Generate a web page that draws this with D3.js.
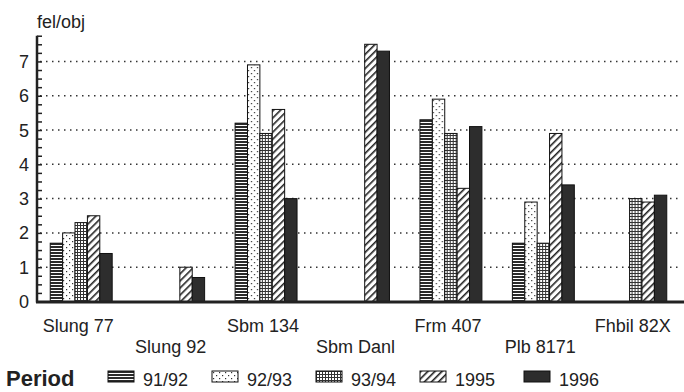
<!DOCTYPE html>
<html>
<head>
<meta charset="utf-8">
<script src="https://cdn.jsdelivr.net/npm/d3@7"></script>
<style>
    html, body { margin: 0; padding: 0; background: #fff; }
    svg { display: block; font-family: "Liberation Sans", Arial, sans-serif; }
</style>
</head>
<body>
<svg id="chart"></svg>
<script>
// =============================================================================
// DATA
// =============================================================================

const categories = ['Slung 77', 'Slung 92', 'Sbm 134', 'Sbm Danl', 'Frm 407', 'Plb 8171', 'Fhbil 82X'];
const periods    = ['91/92', '92/93', '93/94', '1995', '1996'];

// fel/obj per period (null = no bar)
const v9192 = [1.7, null, 5.2, null, 5.3, 1.7, 0];
const v9293 = [2.0, null, 6.9, null, 5.9, 2.9, 0];
const v9394 = [2.3, null, 4.9, null, 4.9, 1.7, 3.0];
const v1995 = [2.5, 1.0, 5.6, 7.5, 3.3, 4.9, 2.9];
const v1996 = [1.4, 0.7, 3.0, 7.3, 5.1, 3.4, 3.1];

const yTicks = [0, 1, 2, 3, 4, 5, 6, 7];
const seriesValues = [v9192, v9293, v9394, v1995, v1996];

// =============================================================================
// CHART
// =============================================================================

function drawChart() {
    const W = 684, H = 392;
    const svg = d3.select('#chart').attr('width', W).attr('height', H);
    const ink = '#222';

    // --- fill patterns (one per period) ---
    const defs = svg.append('defs');

    const pHoriz = defs.append('pattern').attr('id', 'p0')
        .attr('patternUnits', 'userSpaceOnUse').attr('width', 4).attr('height', 3);
    pHoriz.append('rect').attr('width', 4).attr('height', 3).attr('fill', '#fff');
    pHoriz.append('rect').attr('width', 4).attr('height', 2).attr('fill', '#2a2a2a');

    const pDots = defs.append('pattern').attr('id', 'p1')
        .attr('patternUnits', 'userSpaceOnUse').attr('width', 6).attr('height', 6);
    pDots.append('rect').attr('width', 6).attr('height', 6).attr('fill', '#fff');
    pDots.append('rect').attr('x', 1).attr('y', 1).attr('width', 1.2).attr('height', 1.2).attr('fill', '#333');
    pDots.append('rect').attr('x', 4).attr('y', 4).attr('width', 1.2).attr('height', 1.2).attr('fill', '#333');

    const pGrid = defs.append('pattern').attr('id', 'p2')
        .attr('patternUnits', 'userSpaceOnUse').attr('width', 3).attr('height', 3);
    pGrid.append('rect').attr('width', 3).attr('height', 3).attr('fill', '#fff');
    pGrid.append('rect').attr('width', 3).attr('height', 1).attr('fill', '#333');
    pGrid.append('rect').attr('width', 1).attr('height', 3).attr('fill', '#333');

    const pDiag = defs.append('pattern').attr('id', 'p3')
        .attr('patternUnits', 'userSpaceOnUse').attr('width', 5).attr('height', 5)
        .attr('patternTransform', 'rotate(45)');
    pDiag.append('rect').attr('width', 5).attr('height', 5).attr('fill', '#fff');
    pDiag.append('rect').attr('width', 1.6).attr('height', 5).attr('fill', '#222');

    const fills = ['url(#p0)', 'url(#p1)', 'url(#p2)', 'url(#p3)', '#2d2d2d'];

    // --- scales ---
    const x0 = d3.scaleBand()
        .domain(categories)
        .range([35, 682])
        .padding(0);

    const x1 = d3.scaleBand()
        .domain(periods)
        .range([0, x0.bandwidth()])
        .paddingInner(0)
        .paddingOuter(1.23);

    const y = d3.scaleLinear()
        .domain([0, 7.8])
        .range([301.5, 34]);

    // Dotted grid lines
    svg.append('g')
        .selectAll('line')
        .data(yTicks.filter(d => d > 0))
        .enter()
        .append('line')
        .attr('x1', 40).attr('x2', 682)
        .attr('y1', d => y(d)).attr('y2', d => y(d))
        .attr('stroke', '#333')
        .attr('stroke-width', 1.5)
        .attr('stroke-dasharray', '1.5 4.5');

    // Bars
    const groups = svg.append('g')
        .selectAll('g')
        .data(categories)
        .enter()
        .append('g')
        .attr('transform', d => `translate(${x0(d)},0)`);

    groups.selectAll('rect')
        .data((c, ci) => periods.map((p, pi) => ({ p, pi, v: seriesValues[pi][ci] })).filter(d => d.v !== null))
        .enter()
        .append('rect')
        .attr('x', d => x1(d.p))
        .attr('y', d => y(d.v))
        .attr('width', x1.bandwidth())
        .attr('height', d => y(0) - y(d.v))
        .attr('fill', d => fills[d.pi])
        .attr('stroke', '#111')
        .attr('stroke-width', 1);

    // Y axis — minor ticks every 0.25, labels on integers
    const yAxis = svg.append('g')
        .attr('transform', 'translate(37,0)')
        .call(d3.axisRight(y).tickValues(d3.range(0, 7.76, 0.25)).tickSize(5).tickFormat(''))
        .call(ax => ax.select('.domain').remove())
        .call(ax => ax.selectAll('.tick line').attr('stroke', ink).attr('stroke-width', 1.5));

    yAxis.append('line')
        .attr('x1', 0).attr('x2', 0)
        .attr('y1', y(0) + 1).attr('y2', y(7.75))
        .attr('stroke', ink)
        .attr('stroke-width', 2.5);

    svg.append('g')
        .selectAll('text')
        .data(yTicks)
        .enter()
        .append('text')
        .attr('x', 29)
        .attr('y', d => y(d) + 6.5)
        .attr('text-anchor', 'end')
        .attr('font-size', '18px')
        .attr('fill', ink)
        .text(d => d);

    // X axis base line
    svg.append('line')
        .attr('x1', 36).attr('x2', 684)
        .attr('y1', y(0) + 0.5).attr('y2', y(0) + 0.5)
        .attr('stroke', ink)
        .attr('stroke-width', 3);

    // Category labels, staggered on two rows
    svg.append('g')
        .selectAll('text')
        .data(categories)
        .enter()
        .append('text')
        .attr('x', d => x0(d) + x0.bandwidth() / 2 - 3)
        .attr('y', (d, i) => i % 2 === 0 ? 331.5 : 353)
        .attr('text-anchor', 'middle')
        .attr('font-size', '18px')
        .attr('fill', ink)
        .text(d => d);

    // Unit label
    svg.append('text')
        .attr('x', 37).attr('y', 28)
        .attr('font-size', '18px')
        .attr('fill', ink)
        .text('fel/obj');

    // Legend
    svg.append('text')
        .attr('x', 6).attr('y', 386)
        .attr('font-size', '22px')
        .attr('font-weight', 'bold')
        .attr('fill', ink)
        .text('Period');

    const legend = svg.append('g')
        .selectAll('g')
        .data(periods)
        .enter()
        .append('g')
        .attr('transform', (d, i) => `translate(${108 + i * 104},371)`);

    legend.append('rect')
        .attr('width', 26).attr('height', 11)
        .attr('fill', (d, i) => fills[i])
        .attr('stroke', '#111');

    legend.append('text')
        .attr('x', 35).attr('y', 14.5)
        .attr('font-size', '18px')
        .attr('fill', ink)
        .text(d => d);
}

drawChart();
</script>
</body>
</html>
